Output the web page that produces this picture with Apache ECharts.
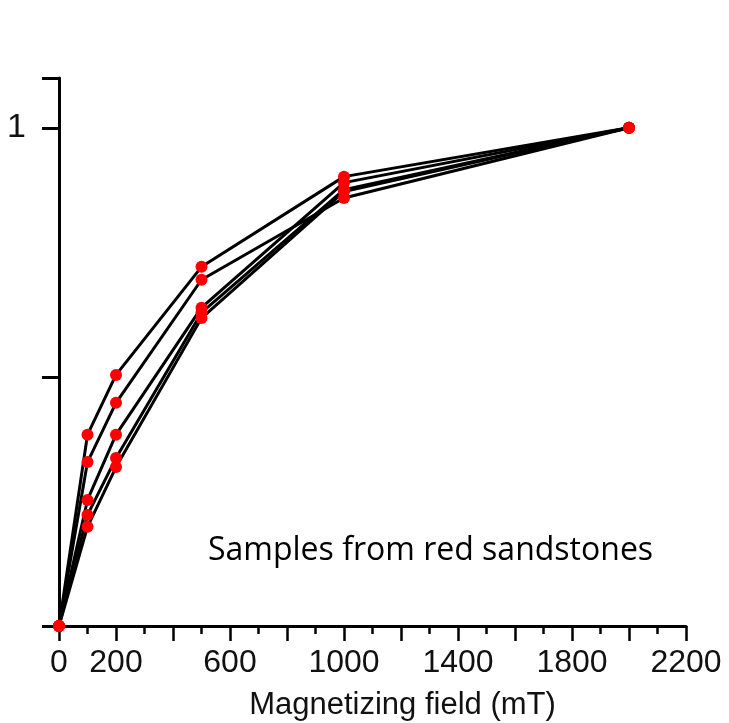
<!DOCTYPE html>
<html><head><meta charset="utf-8">
<script src="https://cdn.jsdelivr.net/npm/echarts@6/dist/echarts.min.js"></script>
<style>html,body{margin:0;padding:0;background:#fff}#c{width:729px;height:723px}</style>
</head><body><div id="c"></div>
<script>
const fields = [0, 100, 200, 500, 1000, 2000];
const sample1 = [0, 0.384, 0.504, 0.721, 0.902, 1];
const sample2 = [0, 0.329, 0.448, 0.695, 0.859, 1];
const sample3 = [0, 0.253, 0.384, 0.639, 0.890, 1];
const sample4 = [0, 0.223, 0.337, 0.629, 0.876, 1];
const sample5 = [0, 0.199, 0.319, 0.618, 0.872, 1];
const samples = [sample1, sample2, sample3, sample4, sample5];
const xLabels = [0, 200, 600, 1000, 1400, 1800, 2200];
const yLabels = [1];
const xTitle = 'Magnetizing field (mT)';
const note = 'Samples from red sandstones';

const chart = echarts.init(document.getElementById('c'));
const font = '"Liberation Sans", Arial, sans-serif';
chart.setOption({
  animation: false,
  grid: {left: 59, right: 43, top: 78, bottom: 97, containLabel: false, outerBoundsMode: 'none'},
  xAxis: {
    type: 'value', min: 0, max: 2200, interval: 200,
    name: xTitle, nameLocation: 'middle', nameGap: 64,
    nameTextStyle: {fontFamily: font, fontSize: 31, color: '#111', padding: [0, 0, 0, 60]},
    axisLine: {lineStyle: {color: '#000', width: 3}},
    axisTick: {length: 15, lineStyle: {color: '#000', width: 2.5}},
    minorTick: {show: true, splitNumber: 2, length: 8, lineStyle: {color: '#000', width: 2.5}},
    splitLine: {show: false},
    axisLabel: {fontFamily: font, fontSize: 32, color: '#111', margin: 21,
      formatter: v => xLabels.indexOf(v) >= 0 ? String(v) : ''}
  },
  yAxis: {
    type: 'value', min: 0, max: 1.1, interval: 0.5,
    axisLine: {show: true, lineStyle: {color: '#000', width: 3}},
    axisTick: {show: true, length: 17, lineStyle: {color: '#000', width: 3}},
    splitLine: {show: false},
    axisLabel: {fontFamily: font, fontSize: 34, color: '#111', margin: 33,
      formatter: v => yLabels.indexOf(v) >= 0 ? String(v) : ''}
  },
  graphic: [{type: 'text', left: 208, top: 535,
    style: {text: note, font: '32px "Open Sans", sans-serif', fill: '#000'}}],
  series: samples.map((s, i) => ({
    type: 'line', name: 'S' + (i + 1),
    data: fields.map((f, j) => [f, s[j]]),
    symbol: 'circle', symbolSize: 12, showAllSymbol: true,
    itemStyle: {color: '#ff0000'},
    lineStyle: {color: '#000', width: 3},
    z: 2
  }))
});
</script></body></html>
